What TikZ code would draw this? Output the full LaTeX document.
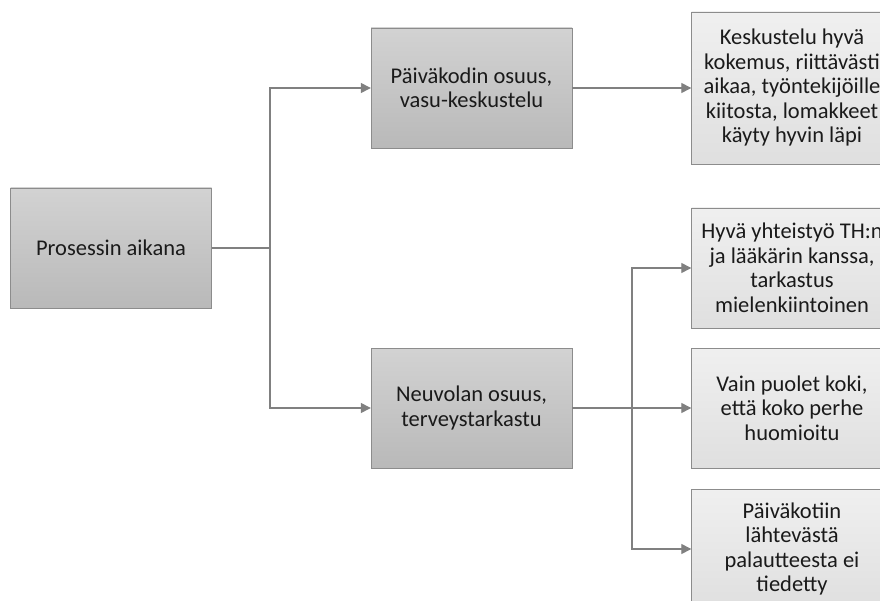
\documentclass[tikz,border=0pt]{standalone}
\usepackage{fontspec}
\setmainfont{Carlito}
\usepackage{tikz}
\usetikzlibrary{arrows.meta}
\usepackage{xcolor}

\definecolor{edgegray}{HTML}{8C8C8C}
\definecolor{linegray}{HTML}{808080}
\definecolor{textgray}{HTML}{1A1A1A}

\tikzset{
  darkbox/.style={draw=edgegray, top color=gray!35, bottom color=gray!55,
    minimum width=201pt, minimum height=120pt, inner sep=2pt,
    align=center, text=textgray, font=\fontsize{22.5}{24.5}\selectfont},
  lightbox/.style={darkbox, top color=gray!12, bottom color=gray!25},
  link/.style={draw=linegray, line width=1.3pt},
  arr/.style={link, -{Triangle[length=10pt,width=10pt]}},
}

\begin{document}
\begin{tikzpicture}[x=1pt,y=-1pt]
  \useasboundingbox (0,0) rectangle (880,601);
  \clip (0,0) rectangle (880,601);
  \fill[white] (0,0) rectangle (880,601);

  % first level
  \node[darkbox] (root) at (111,248) {Prosessin aikana};
  \node[darkbox] (pvk) at (471.5,88) {Päiväkodin osuus,\\vasu-keskustelu};
  \node[darkbox] (neu) at (471.5,408) {Neuvolan osuus,\\terveystarkastu};

  % results
  \node[lightbox, minimum height=152pt] (r1) at (792,88)
    {Keskustelu hyvä\\kokemus, riittävästi\\aikaa, työntekijöille\\kiitosta, lomakkeet\\käyty hyvin läpi};
  \node[lightbox] (r2) at (792,268)
    {Hyvä yhteistyö TH:n\\ja lääkärin kanssa,\\tarkastus\\mielenkiintoinen};
  \node[lightbox] (r3) at (792,408)
    {Vain puolet koki,\\että koko perhe\\huomioitu};
  \node[lightbox] (r4) at (792,549)
    {Päiväkotiin\\lähtevästä\\palautteesta ei\\tiedetty};

  \coordinate (split1) at (270,248);
  \coordinate (split2) at (632,408);

  \draw[link] (root.east) -- (split1);
  \draw[arr] (split1) |- (pvk.west);
  \draw[arr] (split1) |- (neu.west);
  \draw[arr] (pvk.east) -- (r1.west);

  \draw[link] (neu.east) -- (split2);
  \draw[arr] (split2) |- (r2.west);
  \draw[arr] (split2) -- (r3.west);
  \draw[arr] (split2) |- (r4.west);
\end{tikzpicture}
\end{document}
